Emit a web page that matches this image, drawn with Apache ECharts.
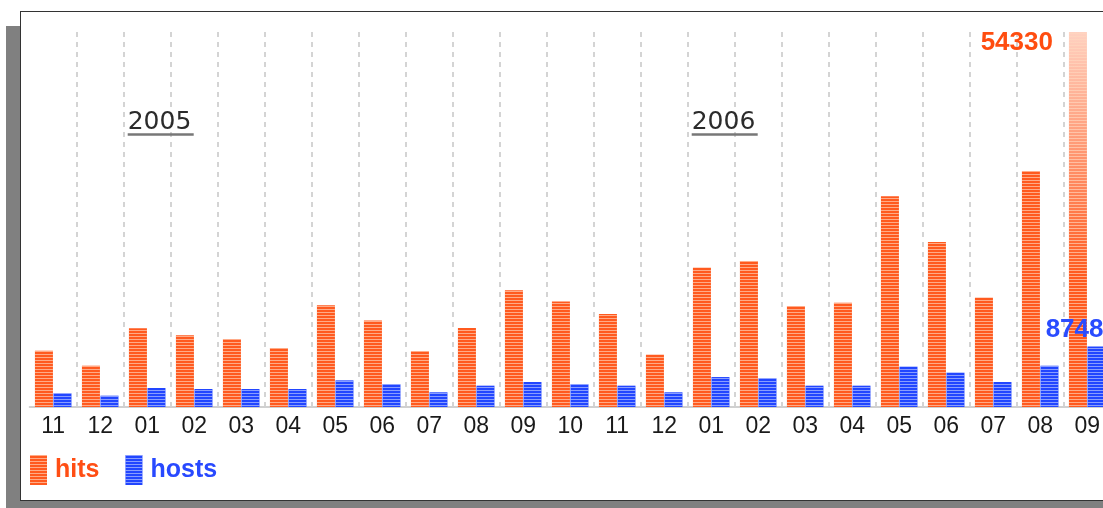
<!DOCTYPE html>
<html>
<head>
<meta charset="utf-8">
<script src="https://cdn.jsdelivr.net/npm/echarts@6/dist/echarts.min.js"></script>
<style>
  html, body { margin: 0; padding: 0; background: #fff; overflow: hidden; }
  #box {
    position: absolute; left: 20px; top: 11px; width: 1120px; height: 488px;
    border: 1px solid #333; background: #fff;
    box-shadow: -14px 15px 0 #808080;
  }
  /* wider than the window: the right edge of the chart is cut off like in the original */
  #main { position: absolute; left: 0; top: 0; width: 1130px; height: 508px; }
</style>
</head>
<body>
<div id="box"></div>
<div id="main"></div>
<script>
// months, Nov 2004 .. Sep 2006
const months = ['11', '12', '01', '02', '03', '04', '05', '06', '07', '08', '09', '10',
  '11', '12', '01', '02', '03', '04', '05', '06', '07', '08', '09']
const hits = [8150, 5980, 11400, 10380, 9800, 8540, 14730, 12550, 8060, 11440, 16900, 15300,
  13470, 7570, 20170, 21140, 14580, 15100, 30550, 23890, 15830, 34170, 54330]
const hosts = [1980, 1640, 2750, 2610, 2610, 2610, 3860, 3290, 2130, 3090, 3620, 3290,
  3090, 2130, 4340, 4150, 3090, 3090, 5840, 4970, 3620, 5980, 8748]
// year captions: category index where the year starts
const yearIdx = [2, 14]
const yearText = ['2005', '2006']

const orange = '#ff5a1f'
const blue = '#2246ff'
const last = months.length - 1

var chartDom = document.getElementById('main')
var myChart = echarts.init(chartDom)

// horizontal light lines over the bars
const stripes = (c) => ({
  symbol: 'rect',
  symbolSize: 1,
  color: c,
  dashArrayX: [1, 0],
  dashArrayY: [1, 2],
  rotation: 0
})

const hitsData = hits.map((v, i) => {
  if (i !== last) return v
  return {
    value: v,
    itemStyle: {
      color: new echarts.graphic.LinearGradient(0, 0, 0, 1, [
        { offset: 0, color: 'rgba(255,90,31,0.28)' },
        { offset: 0.65, color: 'rgba(255,90,31,1)' }
      ])
    },
    label: {
      show: true,
      position: [-16, -2],
      align: 'right',
      verticalAlign: 'top',
      color: '#ff4d10',
      fontFamily: 'Liberation Sans',
      fontWeight: 'bold',
      fontSize: 26
    }
  }
})
const hostsData = hosts.map((v, i) => {
  if (i !== last) return v
  return {
    value: v,
    label: {
      show: true,
      position: [16, -4],
      align: 'right',
      verticalAlign: 'bottom',
      color: '#2a4cff',
      fontFamily: 'Liberation Sans',
      fontWeight: 'bold',
      fontSize: 26
    }
  }
})

var option = {
  animation: false,
  backgroundColor: 'transparent',
  grid: { left: 29.7, top: 32, width: 1081, height: 375 },
  legend: {
    left: 30,
    top: 455,
    padding: 0,
    icon: 'rect',
    itemWidth: 17,
    itemHeight: 30,
    itemGap: 26,
    textStyle: {
      fontFamily: 'Liberation Sans',
      fontWeight: 'bold',
      fontSize: 25,
      padding: [0, 0, 0, 3]
    },
    data: [
      { name: 'hits', textStyle: { color: '#ff4e14' } },
      { name: 'hosts', textStyle: { color: '#2849ff' } }
    ]
  },
  xAxis: {
    type: 'category',
    data: months,
    axisLine: { lineStyle: { color: '#d0d0d0', width: 2 } },
    axisTick: {
      length: 30,
      interval: (i) => i > 0,
      lineStyle: { color: '#d4d4d4', width: 2, type: [5, 5] }
    },
    axisLabel: {
      color: '#1a1a1a',
      fontFamily: 'Liberation Sans',
      fontSize: 23,
      margin: 8
    },
    splitLine: {
      show: true,
      showMinLine: false,
      lineStyle: { color: '#d4d4d4', width: 2, type: [5, 5] }
    }
  },
  yAxis: {
    type: 'value',
    min: 0,
    max: 54330,
    show: false,
    splitLine: { show: false }
  },
  series: [
    {
      name: 'hits',
      type: 'bar',
      barWidth: 18,
      barGap: '3%',
      itemStyle: { color: orange, decal: stripes('rgba(255,215,190,0.65)') },
      data: hitsData
    },
    {
      name: 'hosts',
      type: 'bar',
      barWidth: 18,
      itemStyle: { color: blue, decal: stripes('rgba(205,215,255,0.6)') },
      data: hostsData
    }
  ]
}
option && myChart.setOption(option)

// year captions above the first month of each year
const graphics = []
yearIdx.forEach((idx, k) => {
  const cx = myChart.convertToPixel({ xAxisIndex: 0 }, idx)
  const x0 = cx - 19.5
  graphics.push({
    type: 'text',
    style: {
      x: x0,
      y: 122,
      text: yearText[k],
      fill: '#2b2b2b',
      font: '25px "DejaVu Sans"',
      align: 'left',
      verticalAlign: 'middle'
    }
  })
  graphics.push({
    type: 'line',
    shape: { x1: x0, y1: 134.5, x2: x0 + 66, y2: 134.5 },
    style: { stroke: '#777', lineWidth: 2.5 }
  })
})
myChart.setOption({ graphic: graphics })
</script>
</body>
</html>
